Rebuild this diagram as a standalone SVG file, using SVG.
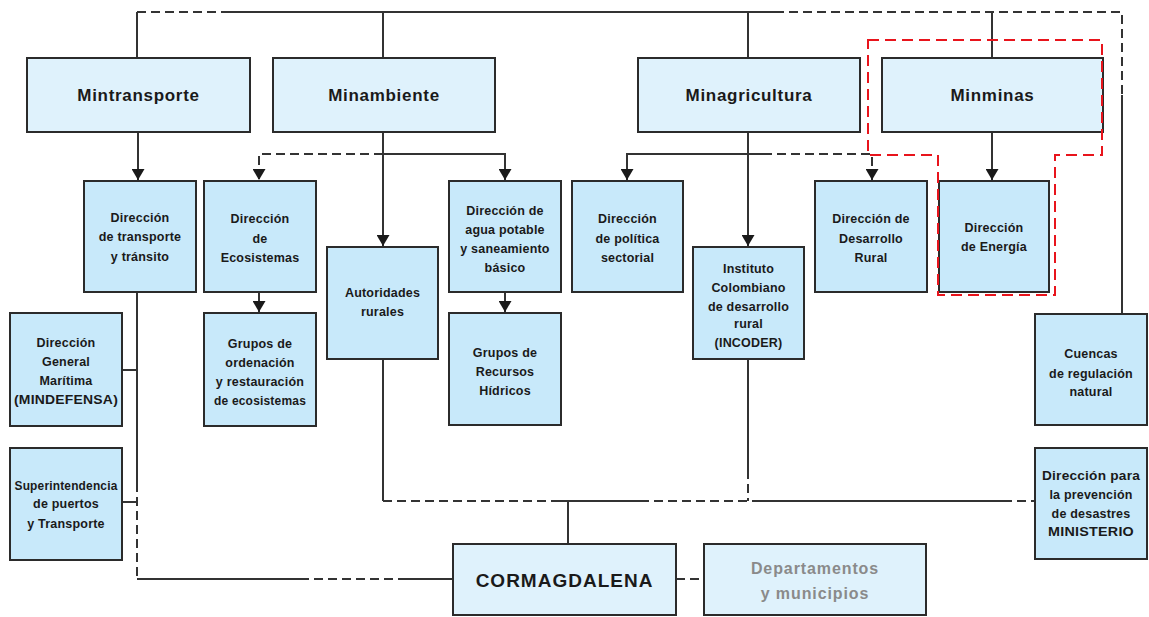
<svg xmlns="http://www.w3.org/2000/svg" width="1149" height="617" viewBox="0 0 1149 617">
<style>
  .t1 { fill:#dff2fc; stroke:#2b2b2b; stroke-width:2; }
  .t2 { fill:#c8e9fa; stroke:#2b2b2b; stroke-width:2; }
  .ln { fill:none; stroke:#333; stroke-width:2; }
  .dl { fill:none; stroke:#333; stroke-width:2; stroke-dasharray:9,5; }
  .red { fill:none; stroke:#e8141c; stroke-width:2; stroke-dasharray:11,6; }
  .h { font-family:"Liberation Sans", Arial, sans-serif; font-weight:bold; font-size:17px; letter-spacing:0.7px; fill:#1a1a1a; text-anchor:middle; }
  .b { font-family:"Liberation Sans", Arial, sans-serif; font-weight:bold; font-size:12.5px; letter-spacing:0.2px; fill:#1a1a1a; text-anchor:middle; }
  .g { font-family:"Liberation Sans", Arial, sans-serif; font-weight:bold; font-size:16px; letter-spacing:0.9px; fill:#8a8a8a; text-anchor:middle; }
</style>
<defs>
  <marker id="ar" markerUnits="userSpaceOnUse" markerWidth="12" markerHeight="13" refX="11" refY="6.5" orient="auto">
    <path d="M0,0 L11,6.5 L0,13 z" fill="#1a1a1a"/>
  </marker>
</defs>
<rect width="1149" height="617" fill="#ffffff"/>

<g id="connectors">
  <!-- top bus -->
  <path class="dl" d="M137,12 H230"/>
  <path class="ln" d="M230,12 H775"/>
  <path class="dl" d="M775,12 H1122 V95"/>
  <path class="ln" d="M1122,95 V314"/>
  <path class="ln" d="M137,12 V58"/>
  <path class="ln" d="M383,12 V58"/>
  <path class="ln" d="M748,12 V58"/>
  <path class="ln" d="M992,12 V58"/>
  <!-- Mintransporte -->
  <path class="ln" d="M138,132 V180" marker-end="url(#ar)"/>
  <!-- Minambiente -->
  <path class="ln" d="M383,132 V246" marker-end="url(#ar)"/>
  <path class="dl" d="M383,154 H259 V180" marker-end="url(#ar)"/>
  <path class="ln" d="M383,154 H505 V180" marker-end="url(#ar)"/>
  <path class="ln" d="M259,292 V312" marker-end="url(#ar)"/>
  <path class="ln" d="M505,292 V312" marker-end="url(#ar)"/>
  <!-- Minagricultura -->
  <path class="ln" d="M748,132 V246" marker-end="url(#ar)"/>
  <path class="ln" d="M763,154 H627 V180" marker-end="url(#ar)"/>
  <path class="dl" d="M763,154 H872 V180" marker-end="url(#ar)"/>
  <!-- Minminas -->
  <path class="ln" d="M992,132 V180" marker-end="url(#ar)"/>
  <!-- left column -->
  <path class="ln" d="M137,292 V483"/>
  <path class="dl" d="M137,483 V579"/>
  <path class="ln" d="M122,370 H137"/>
  <path class="ln" d="M122,502 H137"/>
  <path class="ln" d="M137,579 H300"/>
  <path class="dl" d="M300,579 H400"/>
  <path class="ln" d="M400,579 H453"/>
  <!-- lower bus -->
  <path class="ln" d="M383,359 V501"/>
  <path class="ln" d="M748,359 V470"/>
  <path class="dl" d="M748,470 V501"/>
  <path class="dl" d="M383,501 H560"/>
  <path class="ln" d="M560,501 H640"/>
  <path class="dl" d="M640,501 H760"/>
  <path class="ln" d="M760,501 H1003"/>
  <path class="dl" d="M1003,501 H1035"/>
  <path class="ln" d="M568,501 V544"/>
  <path class="dl" d="M676,579 H704"/>
</g>

<g id="mintransporte"><rect class="t1" x="27" y="58" width="223" height="74"/><text class="h" x="138.5" y="101">Mintransporte</text></g>
<g id="minambiente"><rect class="t1" x="273" y="58" width="222" height="74"/><text class="h" x="384" y="101">Minambiente</text></g>
<g id="minagricultura"><rect class="t1" x="638" y="58" width="222" height="74"/><text class="h" x="749" y="101">Minagricultura</text></g>
<g id="minminas"><rect class="t1" x="882" y="58" width="221" height="74"/><text class="h" x="992.5" y="101">Minminas</text></g>

<g id="dir-transporte"><rect class="t2" x="84" y="181" width="112" height="111"/>
  <text class="b" x="140" y="221.5">Dirección</text><text class="b" x="140" y="241">de transporte</text><text class="b" x="140" y="260.5">y tránsito</text></g>
<g id="dir-ecosistemas"><rect class="t2" x="204" y="181" width="112" height="111"/>
  <text class="b" x="260" y="223">Dirección</text><text class="b" x="260" y="242.5">de</text><text class="b" x="260" y="261.5">Ecosistemas</text></g>
<g id="autoridades"><rect class="t2" x="327" y="247" width="111" height="112"/>
  <text class="b" x="382.5" y="296.5">Autoridades</text><text class="b" x="382.5" y="315.5">rurales</text></g>
<g id="dir-agua"><rect class="t2" x="449" y="181" width="112" height="111"/>
  <text class="b" x="505" y="214.5">Dirección de</text><text class="b" x="505" y="233.5">agua potable</text><text class="b" x="505" y="252.5">y saneamiento</text><text class="b" x="505" y="271.5">básico</text></g>
<g id="dir-politica"><rect class="t2" x="572" y="181" width="111" height="111"/>
  <text class="b" x="627.5" y="223">Dirección</text><text class="b" x="627.5" y="243">de política</text><text class="b" x="627.5" y="261.5">sectorial</text></g>
<g id="incoder"><rect class="t2" x="693" y="247" width="111" height="112"/>
  <text class="b" x="748.5" y="272.5">Instituto</text><text class="b" x="748.5" y="291.5">Colombiano</text><text class="b" x="748.5" y="310.5">de desarrollo</text><text class="b" x="748.5" y="328">rural</text><text class="b" x="748.5" y="346.5">(INCODER)</text></g>
<g id="dir-desarrollo"><rect class="t2" x="815" y="181" width="112" height="111"/>
  <text class="b" x="871" y="223">Dirección de</text><text class="b" x="871" y="242.5">Desarrollo</text><text class="b" x="871" y="261.5">Rural</text></g>
<g id="dir-energia"><rect class="t2" x="939" y="181" width="110" height="111"/>
  <text class="b" x="994" y="231.5">Dirección</text><text class="b" x="994" y="250.5">de Energía</text></g>
<g id="dimar"><rect class="t2" x="10" y="313" width="112" height="113"/>
  <text class="b" x="66" y="346.5">Dirección</text><text class="b" x="66" y="365.5">General</text><text class="b" x="66" y="384.5">Marítima</text><text class="b" x="66" y="403.5" textLength="104" lengthAdjust="spacingAndGlyphs">(MINDEFENSA)</text></g>
<g id="grupos-ordenacion"><rect class="t2" x="204" y="313" width="112" height="113"/>
  <text class="b" x="260" y="347.5">Grupos de</text><text class="b" x="260" y="366.5">ordenación</text><text class="b" x="260" y="386">y restauración</text><text class="b" x="260" y="404.5" textLength="92" lengthAdjust="spacingAndGlyphs">de ecosistemas</text></g>
<g id="grupos-recursos"><rect class="t2" x="449" y="313" width="112" height="112"/>
  <text class="b" x="505" y="356.5">Grupos de</text><text class="b" x="505" y="375.5">Recursos</text><text class="b" x="505" y="394.5">Hídricos</text></g>
<g id="superintendencia"><rect class="t2" x="10" y="448" width="112" height="112"/>
  <text class="b" x="66" y="489.5" textLength="103" lengthAdjust="spacingAndGlyphs">Superintendencia</text><text class="b" x="66" y="507.5">de puertos</text><text class="b" x="66" y="527.5">y Transporte</text></g>
<g id="cuencas"><rect class="t2" x="1035" y="314" width="112" height="111"/>
  <text class="b" x="1091" y="357.5">Cuencas</text><text class="b" x="1091" y="377.5">de regulación</text><text class="b" x="1091" y="395.5">natural</text></g>
<g id="prevencion"><rect class="t2" x="1035" y="448" width="112" height="111"/>
  <text class="b" x="1091" y="479.5" textLength="98" lengthAdjust="spacingAndGlyphs">Dirección para</text><text class="b" x="1091" y="498.5">la prevención</text><text class="b" x="1091" y="517.5">de desastres</text><text class="b" x="1091" y="535.5" textLength="86" lengthAdjust="spacingAndGlyphs">MINISTERIO</text></g>
<g id="cormagdalena"><rect class="t1" x="453" y="544" width="223" height="71"/>
  <text class="h" x="564.5" y="587" style="font-size:19px;letter-spacing:1px">CORMAGDALENA</text></g>
<g id="departamentos"><rect class="t1" x="704" y="544" width="222" height="71"/>
  <text class="g" x="815" y="573.5">Departamentos</text><text class="g" x="815" y="598.5">y municipios</text></g>

<g id="highlight">
  <path class="red" d="M868,40 H1102 V155 H1055 V295 H938 V155 H868 Z"/>
</g>
</svg>
